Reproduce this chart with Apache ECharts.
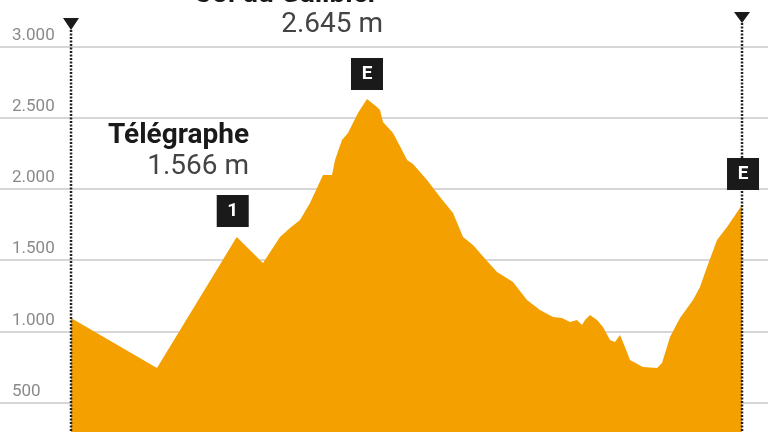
<!DOCTYPE html>
<html><head><meta charset="utf-8">
<script src="https://cdn.jsdelivr.net/npm/echarts@6/dist/echarts.min.js"></script>
<style>html,body{margin:0;padding:0;background:#fff;overflow:hidden}#c{width:768px;height:432px}</style>
</head><body><div id="c"></div><script>
// distance along the stage (km) and elevation (m)
const distKm = [0, 14.03, 27.04, 31.33, 34.1, 35.74, 37.37, 39.0, 41.12, 42.59, 43.08, 44.22, 45.2, 46.83, 48.3, 49.93, 50.42, 50.91, 52.55, 54.18, 54.83, 55.81, 58.09, 60.22, 62.34, 63.97, 65.6, 67.89, 69.52, 72.13, 74.41, 76.53, 78.66, 80.12, 81.43, 82.57, 83.39, 83.88, 84.69, 85.84, 86.81, 87.96, 88.77, 89.59, 90.4, 91.22, 93.34, 95.63, 96.44, 97.75, 99.38, 101.5, 102.64, 103.79, 105.42, 107.05, 109.5];
const elevM = [1094, 742, 1662, 1480, 1662, 1726, 1782, 1901, 2098, 2098, 2203, 2343, 2393, 2533, 2631, 2575, 2554, 2470, 2393, 2260, 2203, 2175, 2063, 1943, 1831, 1662, 1606, 1494, 1417, 1347, 1220, 1150, 1101, 1094, 1066, 1080, 1044, 1080, 1115, 1080, 1030, 939, 925, 974, 889, 798, 749, 742, 777, 960, 1094, 1220, 1311, 1452, 1641, 1732, 1887];
const yTicks = [0, 500, 1000, 1500, 2000, 2500, 3000];
const passNames = ['Télégraphe', 'Col du Galibier'];
const passHeights = ['1.566 m', '2.645 m'];
const endHeights = ['1.067 m', '1.850 m'];
const tagLabels = ['1', 'E', 'E'];
const tagKm = [27.04, 48.3, 109.5];

const fmt = v => v >= 1000 ? Math.floor(v / 1000) + '.' + String(v % 1000).padStart(3, '0') : String(v);

const chart = echarts.init(document.getElementById('c'), null, {renderer: 'canvas'});
const FONT = 'Roboto';
chart.setOption({
  animation: false,
  grid: {left: 0, right: 0, top: 46.5, bottom: -41.7, containLabel: false, outerBoundsMode: 'none'},
  xAxis: {type: 'value', min: -11.59, max: 113.74, show: false},
  yAxis: {
    type: 'value', min: yTicks[0], max: yTicks[yTicks.length - 1], interval: 500,
    axisLine: {show: false}, axisTick: {show: false},
    splitLine: {lineStyle: {color: '#d6d6d6', width: 2}},
    axisLabel: {
      inside: true, margin: 12, align: 'left', verticalAlign: 'bottom', lineHeight: 22,
      color: '#8a8a8a', fontSize: 17, fontFamily: FONT,
      formatter: v => v === 0 ? '' : fmt(v)
    }
  },
  series: [{
    type: 'line', data: distKm.map((d, i) => [d, elevM[i]]),
    symbol: 'none', lineStyle: {width: 0}, z: 1,
    areaStyle: {color: '#f4a000', opacity: 1, origin: 'start'}
  }]
});

const px = (km, m) => chart.convertToPixel({gridIndex: 0}, [km, m]);
const idxOf = km => distKm.indexOf(km);
const g = [];
const startX = px(distKm[0], 0)[0];
const endX = px(distKm[distKm.length - 1], 0)[0];
[[startX, 18, 30], [endX, 12, 23]].forEach(([x, t, b]) => {
  g.push({type: 'line', shape: {x1: x, y1: b, x2: x, y2: 432}, style: {stroke: '#222', lineWidth: 2.5, lineDash: [2, 1.5]}, z: 5});
  g.push({type: 'polygon', shape: {points: [[x - 8, t], [x + 8, t], [x, b]]}, style: {fill: '#1a1a1a'}, z: 6});
});
g.push({type: 'text', style: {text: endHeights[0], x: 115, y: -7, align: 'right', verticalAlign: 'middle', font: '28px ' + FONT, fill: '#444'}, z: 6});
g.push({type: 'text', style: {text: endHeights[1], x: 757, y: -7, align: 'right', verticalAlign: 'middle', font: '28px ' + FONT, fill: '#444'}, z: 6});
const nameY = [136, -5], heightY = [167, 25], rightX = [249, 383], nameRight = [249, 378];
passNames.forEach((n, i) => {
  g.push({type: 'text', style: {text: n, x: nameRight[i], y: nameY[i], align: 'right', verticalAlign: 'middle', font: 'bold 28px ' + FONT, fill: '#1a1a1a'}, z: 6});
  g.push({type: 'text', style: {text: passHeights[i], x: rightX[i], y: heightY[i], align: 'right', verticalAlign: 'middle', font: '28px ' + FONT, fill: '#444'}, z: 6});
});
const dx = [-4, 0, 1], gap = [10, 9, 15];
tagLabels.forEach((t, i) => {
  const p = px(tagKm[i], elevM[idxOf(tagKm[i])]);
  const cx = p[0] + dx[i], bottom = p[1] - gap[i];
  g.push({type: 'rect', shape: {x: cx - 16, y: bottom - 32, width: 32, height: 32}, style: {fill: '#1a1a1a'}, z: 7});
  g.push({type: 'text', style: {text: t, x: cx, y: bottom - 16, align: 'center', verticalAlign: 'middle', font: 'bold 19px ' + FONT, fill: '#fff'}, z: 8});
});
chart.setOption({graphic: g});
</script></body></html>
